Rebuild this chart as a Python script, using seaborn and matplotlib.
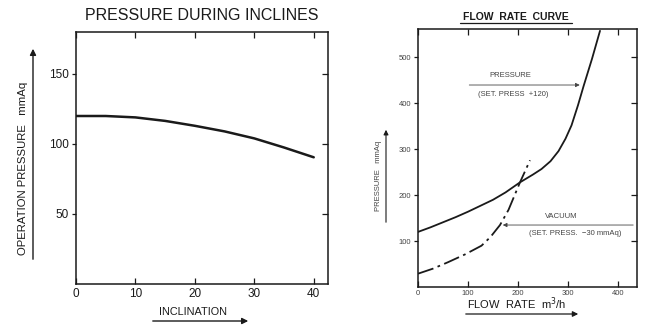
import matplotlib
matplotlib.use("Agg")
import matplotlib.pyplot as plt
import pandas as pd
import seaborn as sns

# pressure during inclines
inclination = [0, 5, 10, 15, 20, 25, 30, 35, 40]
operationPressure = [120, 120, 119, 116.5, 113, 109, 104, 97.5, 90.5]

# flow rate curve
flowPressure = [0, 25, 50, 75, 100, 125, 150, 175, 204, 230, 247, 265, 281, 295, 307, 320, 331, 348, 364]
pressureCurve = [120, 130, 141, 152, 164, 177, 190, 206, 228, 245, 257, 274, 296, 323, 352, 396, 437, 497, 558]
flowVacuum = [0, 30, 60, 94, 127, 145, 164, 181, 204, 224]
vacuumCurve = [29, 40, 54, 71, 90, 109, 135, 168, 228, 276]

leftXTicks = [0, 10, 20, 30, 40]
leftYTicks = [50, 100, 150]
rightXTicks = [0, 100, 200, 300, 400]
rightYTicks = [100, 200, 300, 400, 500]

dfIncline = pd.DataFrame({"Inclination": inclination, "Pressure": operationPressure})
dfPressure = pd.DataFrame({"Flow": flowPressure, "Pressure": pressureCurve})
dfVacuum = pd.DataFrame({"Flow": flowVacuum, "Pressure": vacuumCurve})

sns.set_style("ticks")
plt.rcParams['font.family'] = ['Liberation Sans', 'DejaVu Sans']
ink = "#1a1a1a"
grey = "#444444"

fig = plt.figure(figsize=(6.48, 3.26), dpi=100)
W, H = 648.0, 326.0


def fx(px):
    return px / W


def fy(py):
    return 1 - py / H


def frame(ax, labelsize, labelcolor, xpad):
    for s in ax.spines.values():
        s.set_color(ink)
        s.set_linewidth(1.1)
    ax.tick_params(axis="x", direction="in", length=4, width=0.9, colors=ink,
                   labelsize=labelsize, labelcolor=labelcolor, pad=xpad)
    ax.tick_params(axis="y", direction="out", length=3, width=0.9, colors=ink,
                   labelsize=labelsize, labelcolor=labelcolor, pad=2)
    top = ax.secondary_xaxis("top")
    top.set_xticks(ax.get_xticks())
    top.tick_params(direction="in", length=4, width=0.9, colors=ink, labeltop=False)
    right = ax.secondary_yaxis("right")
    right.set_yticks(ax.get_yticks())
    right.tick_params(direction="in", length=4, width=0.9, colors=ink, labelright=False)
    for sec in (top, right):
        for s in sec.spines.values():
            s.set_visible(False)


# ---- left panel
ax1 = fig.add_axes([fx(76), fy(284), fx(328 - 76), fy(32) - fy(284)])
sns.lineplot(x="Inclination", y="Pressure", data=dfIncline, ax=ax1, color=ink, linewidth=1.8)
ax1.set_xlim(0, 42.4)
ax1.set_ylim(0, 180)
ax1.set_xticks(leftXTicks)
ax1.set_yticks(leftYTicks)
ax1.set_xlabel("")
ax1.set_ylabel("")
frame(ax1, 8.5, ink, 3)

fig.text(fx(202), fy(15), "PRESSURE DURING INCLINES", ha="center", va="center", fontsize=11.5, color=ink)
fig.text(fx(23), fy(168), "OPERATION PRESSURE   mmAq", rotation=90, ha="center", va="center", fontsize=8.2, color=ink)
fig.add_artist(matplotlib.patches.FancyArrowPatch((fx(33), fy(262)), (fx(33), fy(46)), transform=fig.transFigure,
                                                  arrowstyle="-|>", mutation_scale=9, color=ink, lw=1.0))
fig.text(fx(193), fy(312), "INCLINATION", ha="center", va="center", fontsize=7.8, color=ink)
fig.add_artist(matplotlib.patches.FancyArrowPatch((fx(150), fy(321)), (fx(251), fy(321)), transform=fig.transFigure,
                                                  arrowstyle="-|>", mutation_scale=9, color=ink, lw=1.0))

# ---- right panel
ax2 = fig.add_axes([fx(418), fy(287), fx(637 - 418), fy(29) - fy(287)])
sns.lineplot(x="Flow", y="Pressure", data=dfPressure, ax=ax2, color=ink, linewidth=1.3)
sns.lineplot(x="Flow", y="Pressure", data=dfVacuum, ax=ax2, color=ink, linewidth=1.3,
             linestyle=(0, (9, 2.5, 1.5, 2.5)))
ax2.set_xlim(0, 438)
ax2.set_ylim(0, 562)
ax2.set_xticks(rightXTicks)
ax2.set_yticks(rightYTicks)
ax2.set_xlabel("")
ax2.set_ylabel("")
frame(ax2, 5.5, grey, 2)

ax2.annotate("", xy=(329, 440), xytext=(97, 440),
             arrowprops=dict(arrowstyle="-|>", mutation_scale=6, color=grey, lw=0.6))
ax2.text(185, 452, "PRESSURE", ha="center", va="bottom", fontsize=5.5, color=grey)
ax2.text(190, 428, "(SET. PRESS  +120)", ha="center", va="top", fontsize=5.5, color=grey)
ax2.annotate("", xy=(164, 135), xytext=(436, 135),
             arrowprops=dict(arrowstyle="-|>", mutation_scale=6, color=grey, lw=0.6))
ax2.text(287, 146, "VACUUM", ha="center", va="bottom", fontsize=5.5, color=grey)
ax2.text(314, 124, "(SET. PRESS.  \u221230 mmAq)", ha="center", va="top", fontsize=5.5, color=grey)

fig.text(fx(516), fy(17), "FLOW  RATE  CURVE", ha="center", va="center", fontsize=7.5, color=ink, fontweight="bold")
fig.add_artist(matplotlib.lines.Line2D([fx(460), fx(572)], [fy(23), fy(23)], transform=fig.transFigure, color=ink, lw=0.9))
fig.text(fx(379), fy(176), "PRESSURE   mmAq", rotation=90, ha="center", va="center", fontsize=5.5, color=grey)
fig.add_artist(matplotlib.patches.FancyArrowPatch((fx(386), fy(225)), (fx(386), fy(127)), transform=fig.transFigure,
                                                  arrowstyle="-|>", mutation_scale=7, color=ink, lw=0.8))
fig.text(fx(517), fy(304), "FLOW  RATE  m$^3$/h", ha="center", va="center", fontsize=8, color=ink)
fig.add_artist(matplotlib.patches.FancyArrowPatch((fx(463), fy(314)), (fx(581), fy(314)), transform=fig.transFigure,
                                                  arrowstyle="-|>", mutation_scale=8, color=ink, lw=0.9))

fig.savefig("out.png", dpi=100)
